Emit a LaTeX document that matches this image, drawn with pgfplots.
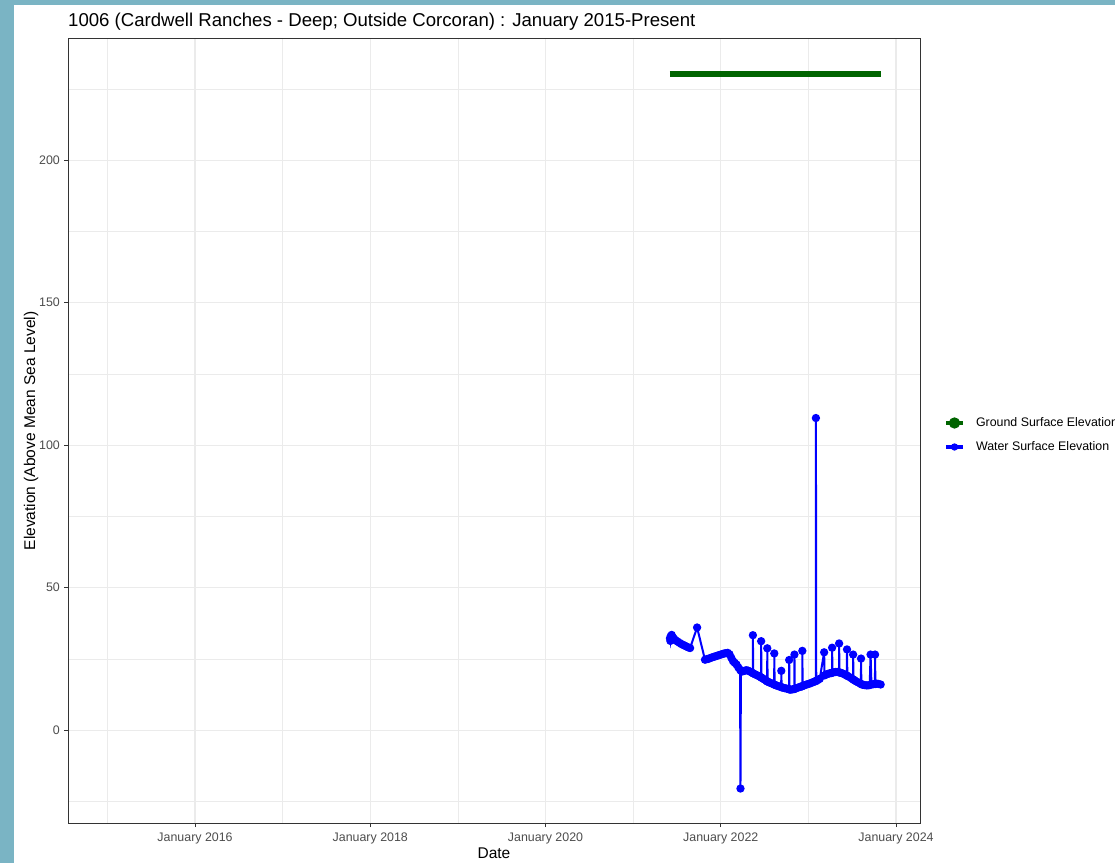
\documentclass[border=0pt]{standalone}
\usepackage{fontspec}
\setmainfont{Liberation Sans}
\usepackage{pgfplots}
\pgfplotsset{compat=1.18}

\definecolor{bgteal}{RGB}{122,180,196}
\definecolor{grey92}{RGB}{235,235,235}
\definecolor{grey20}{RGB}{51,51,51}
\definecolor{grey30}{RGB}{77,77,77}
\definecolor{gsegreen}{RGB}{0,100,0}

\begin{document}
\begin{tikzpicture}[x=1pt,y=1pt]
% page background: teal frame on the left and top
\fill[bgteal] (0,0) rectangle (1115,863);
\fill[white] (14,0) rectangle (1115,858);

\begin{axis}[
at={(68pt,40pt)}, anchor=south west,
scale only axis, width=852pt, height=784pt,
xmin=2014.55, xmax=2024.274,
ymin=-32.6, ymax=242.5,
xtick={2016,2018,2020,2022,2024},
xticklabels={January 2016,January 2018,January 2020,January 2022,January 2024},
minor xtick={2015,2017,2019,2021,2023},
ytick={0,50,100,150,200},
minor ytick={-25,25,75,125,175,225},
grid=both,
major grid style={grey92, line width=1.1pt},
minor grid style={grey92, line width=0.55pt},
tick align=outside, tick pos=left,
major tick length=4pt, minor tick length=0pt,
every tick/.style={grey20, line width=0.9pt},
axis line style={grey20, line width=1pt},
/pgf/number format/assume math mode=true,
ticklabel style={font=\fontsize{12.4}{14}\selectfont, text=grey30, inner sep=0pt},
xticklabel style={anchor=north, yshift=-6pt},
yticklabel style={anchor=east, xshift=-4pt},
title={1006 (Cardwell Ranches - Deep; Outside Corcoran) : January 2015-Present},
title style={at={(axis description cs:0,1.0077)}, anchor=base west, inner sep=0pt,
  yshift=0pt, font=\fontsize{18.6}{22}\selectfont},
xlabel={Date},
xlabel style={at={(axis description cs:0.5,-0.04464)}, anchor=base, inner sep=0pt,
  font=\fontsize{15.5}{18}\selectfont},
ylabel={Elevation (Above Mean Sea Level)},
ylabel style={at={(axis description cs:-0.0387,0.5)}, anchor=base, inner sep=0pt,
  font=\fontsize{15.5}{18}\selectfont},
legend style={at={(axis description cs:1,0.4949)}, anchor=west, xshift=24pt,
  draw=none, fill=none, inner sep=0pt, outer sep=0pt,
  font=\fontsize{12.4}{14}\selectfont, row sep=12.4pt,
  nodes={inner sep=0pt, text height=9pt, text depth=2.6pt},
  /tikz/every odd column/.append style={column sep=11pt}},
legend cell align=left,
legend image code/.code={
  \draw[#1, line width=4pt] (0pt,0pt) -- (17pt,0pt);
  \fill[#1] (8.5pt,0pt) circle (2.6pt);
},
]
\addplot[gsegreen, line width=5.7pt] table {
2021.42 230.3
2023.825 230.3
};
\addlegendentry{Ground Surface Elevation}

\addplot[blue, line width=2pt, mark=*, mark size=3.1pt, mark options={blue}] table {
2021.420 32.2
2021.425 31.3
2021.430 33.0
2021.440 33.4
2021.450 32.6
2021.460 32.3
2021.470 31.9
2021.490 31.4
2021.510 31.0
2021.530 30.6
2021.550 30.2
2021.570 29.9
2021.590 29.6
2021.610 29.3
2021.630 29.0
2021.650 28.8
2021.730 36.0
2021.820 24.7
2021.840 24.9
2021.860 25.0
2021.880 25.3
2021.900 25.5
2021.920 25.7
2021.940 25.9
2021.960 26.1
2021.980 26.3
2022.000 26.5
2022.020 26.7
2022.040 26.9
2022.060 27.0
2022.080 27.1
2022.100 26.6
2022.120 25.4
2022.140 24.2
2022.160 23.6
2022.180 23.0
2022.200 22.0
2022.220 21.2
2022.225 -20.5
2022.230 20.8
2022.250 20.6
2022.270 20.8
2022.290 21.0
2022.310 20.9
2022.330 20.6
2022.350 20.3
2022.366 20.0
2022.367 33.3
2022.370 19.9
2022.390 19.6
2022.410 19.3
2022.430 19.0
2022.450 18.7
2022.460 18.5
2022.461 31.2
2022.465 18.4
2022.480 18.1
2022.500 17.7
2022.520 17.3
2022.530 17.1
2022.531 28.7
2022.535 17.0
2022.550 16.8
2022.570 16.5
2022.590 16.3
2022.610 16.0
2022.611 26.9
2022.615 15.9
2022.630 15.7
2022.650 15.5
2022.670 15.3
2022.690 15.1
2022.691 20.8
2022.695 15.0
2022.710 14.9
2022.730 14.7
2022.750 14.6
2022.770 14.4
2022.780 14.3
2022.781 24.6
2022.785 14.3
2022.800 14.2
2022.820 14.3
2022.840 14.4
2022.841 26.5
2022.845 14.5
2022.860 14.7
2022.880 14.9
2022.900 15.1
2022.920 15.3
2022.930 15.4
2022.931 27.8
2022.935 15.5
2022.950 15.7
2022.970 15.9
2022.990 16.1
2023.010 16.3
2023.030 16.5
2023.050 16.8
2023.070 17.0
2023.085 17.2
2023.086 109.5
2023.090 17.3
2023.110 17.6
2023.130 18.0
2023.180 27.3
2023.185 19.2
2023.200 19.5
2023.220 19.7
2023.240 19.9
2023.260 20.0
2023.270 20.1
2023.271 28.9
2023.275 20.2
2023.290 20.3
2023.310 20.4
2023.330 20.4
2023.350 20.3
2023.351 30.4
2023.355 20.2
2023.370 20.1
2023.390 19.9
2023.410 19.6
2023.430 19.3
2023.440 19.1
2023.441 28.3
2023.445 19.0
2023.470 18.6
2023.490 18.2
2023.510 17.8
2023.511 26.5
2023.515 17.7
2023.530 17.4
2023.550 17.0
2023.570 16.7
2023.590 16.4
2023.600 16.2
2023.601 25.1
2023.605 16.1
2023.620 15.9
2023.640 15.8
2023.660 15.7
2023.680 15.7
2023.700 15.8
2023.710 26.5
2023.720 16.0
2023.740 16.1
2023.760 16.2
2023.761 26.5
2023.765 16.2
2023.780 16.3
2023.800 16.2
2023.825 16.0
};
\addlegendentry{Water Surface Elevation}
\end{axis}

\pgfresetboundingbox
\path[use as bounding box] (0,0) rectangle (1115,863);
\end{tikzpicture}
\end{document}
